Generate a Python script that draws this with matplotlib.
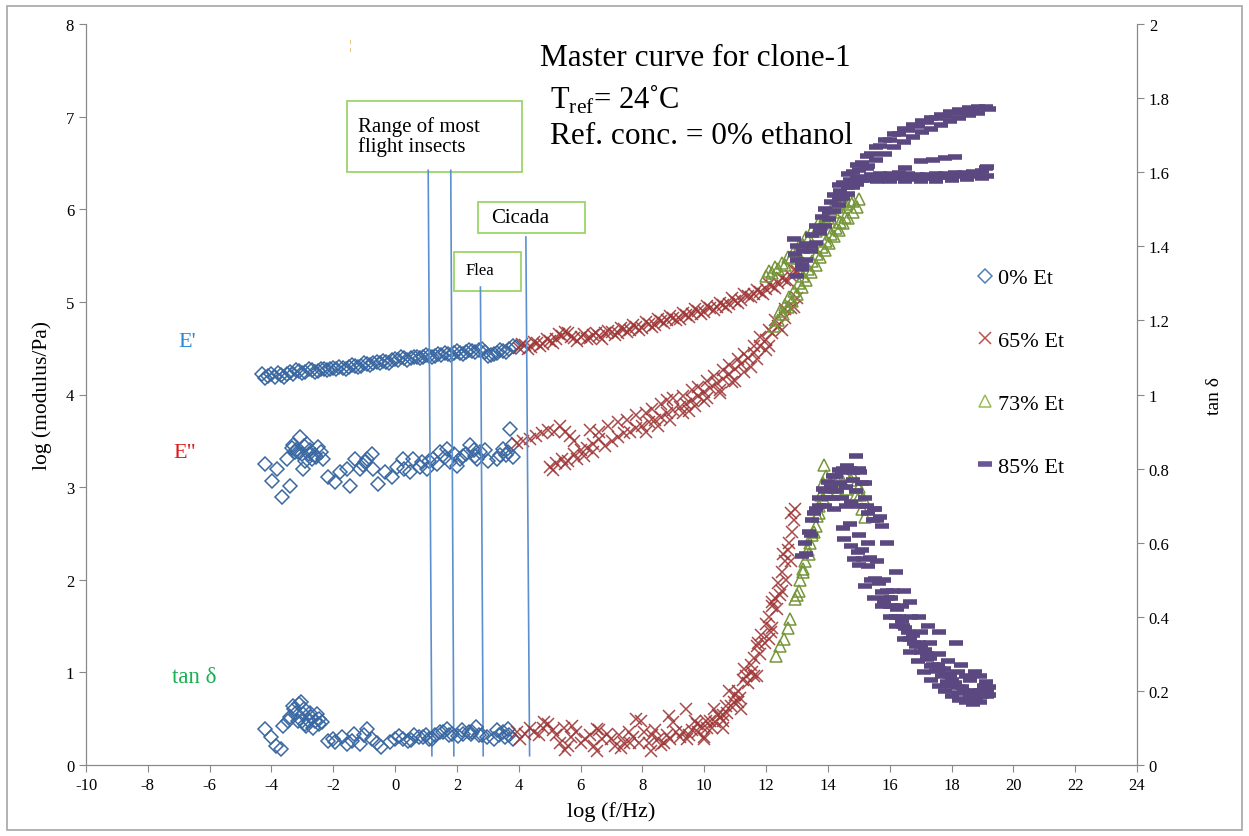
import matplotlib
matplotlib.use("Agg")
import matplotlib.pyplot as plt
from matplotlib.lines import Line2D
from matplotlib.patches import Rectangle

plt.rcParams['font.family'] = ['Liberation Serif', 'DejaVu Serif']
plt.rcParams['mathtext.fontset'] = 'custom'
plt.rcParams['mathtext.rm'] = 'Liberation Serif'
plt.rcParams['axes.unicode_minus'] = False

# ---- 0% Et (blue diamonds) ----
et0_mod_x = [-4.3, -4.1, -3.9, -3.7, -3.5, -3.3, -3.1, -2.9, -2.7, -2.5, -2.3, -2.1, -1.9, -1.7,
             -1.5, -1.3, -1.1, -0.9, -0.7, -0.5, -0.3, -0.1, 0.1, 0.3, 0.5, 0.7, 0.9, 1.1, 1.3,
             1.5, 1.7, 1.9, 2.1, 2.3, 2.5, 2.7, 2.9, 3.1, 3.3, 3.5, 3.7, 3.9,
             -4.2, -4.0, -3.8, -3.6, -3.4, -3.2, -3.0, -2.8, -2.6, -2.4, -2.2, -2.0, -1.8, -1.6,
             -1.4, -1.2, -1.0, -0.8, -0.6, -0.4, -0.2, 0.0, 0.2, 0.4, 0.6, 0.8, 1.0, 1.2, 1.4,
             1.6, 1.8, 2.0, 2.2, 2.4, 2.6, 2.8, 3.0, 3.2, 3.4, 3.6, 3.8]
et0_storage = [4.22, 4.20, 4.19, 4.21, 4.22, 4.22, 4.25, 4.24, 4.26, 4.25, 4.27, 4.27, 4.28, 4.29,
               4.30, 4.31, 4.31, 4.33, 4.34, 4.34, 4.35, 4.37, 4.37, 4.39, 4.39, 4.40, 4.41, 4.42,
               4.42, 4.43, 4.44, 4.45, 4.45, 4.46, 4.47, 4.48, 4.46, 4.43, 4.45, 4.47, 4.49, 4.51,
               4.18, 4.22, 4.23, 4.19, 4.24, 4.26, 4.23, 4.27, 4.24, 4.28, 4.26, 4.29, 4.30, 4.28,
               4.32, 4.30, 4.34, 4.32, 4.35, 4.36, 4.34, 4.38, 4.40, 4.37, 4.41, 4.39, 4.43, 4.41,
               4.44, 4.45, 4.43, 4.47, 4.44, 4.48, 4.46, 4.49, 4.42, 4.44, 4.48, 4.46, 4.52]
et0_loss_x = [-4.21, -3.98, -3.66, -3.82, -3.50, -3.40, -3.30, -3.07, -3.14, -2.98, -2.85, -2.69,
              -2.49, -2.33, -2.17, -1.94, -1.78, -1.55, -1.46, -1.29, -1.13, -0.97, -0.74, -0.71,
              -0.55, -0.32, -0.10, 0.06, 0.26, 0.49, 0.58, 0.87, 1.04, 1.23, 1.46, 1.68, 1.78,
              2.01, 2.20, 2.43, 2.59, 2.75, 3.01, 3.30, 3.50, 3.72, 3.79, 3.82,
              -3.20, -3.00, -2.75, -2.60, -2.90, 0.80, 1.60, 2.30, 2.90, 3.60,
              -3.35, -3.25, -2.95, -2.80, -2.55, -2.40, -1.05, -0.90, 0.30, 1.10, 1.35, 1.90,
              2.10, 2.55, 2.65, 3.40, 3.65]
et0_loss = [3.25, 3.07, 2.89, 3.20, 3.30, 3.01, 3.45, 3.54, 3.38, 3.20, 3.47, 3.30,
            3.43, 3.30, 3.11, 3.06, 3.16, 3.20, 3.01, 3.30, 3.20, 3.27, 3.36, 3.20,
            3.03, 3.16, 3.11, 3.22, 3.30, 3.16, 3.30, 3.27, 3.20, 3.30, 3.38, 3.41, 3.27,
            3.23, 3.34, 3.45, 3.34, 3.38, 3.28, 3.30, 3.41, 3.63, 3.45, 3.33,
            3.40, 3.36, 3.40, 3.35, 3.28, 3.22, 3.32, 3.36, 3.40, 3.35,
            3.42, 3.38, 3.44, 3.36, 3.32, 3.38, 3.24, 3.30, 3.20, 3.28, 3.25, 3.36,
            3.30, 3.40, 3.30, 3.35, 3.38]
et0_tan_x = [-4.21, -4.03, -3.86, -3.69, -3.63, -3.46, -3.28, -3.11, -2.99, -2.88, -2.71, -2.53,
             -2.36, -2.18, -1.96, -1.72, -1.55, -1.32, -1.15, -0.91, -0.74, -0.45, -0.16, 0.13,
             0.42, 0.76, 1.11, 1.46, 1.68, 2.03, 2.38, 2.61, 2.96, 3.19, 3.48, 3.65, 3.82,
             -3.30, -3.20, -3.05, -2.95, -2.80, -2.60, -2.45, -2.90, -3.15, -2.75,
             0.25, 0.60, 0.90, 1.30, 1.85, 2.20, 2.50, 2.80, 3.35,
             0.0, 0.5, 1.0, 1.2, 1.55, 1.75, 2.15, 2.45, 2.7, 3.3, 3.55, 3.7,
             -1.4, -1.0, -0.6, -2.0, -3.4, -3.0, -2.65, -2.45]
et0_tan = [0.097, 0.076, 0.051, 0.043, 0.105, 0.119, 0.151, 0.165, 0.138, 0.105, 0.130, 0.138,
           0.116, 0.065, 0.062, 0.076, 0.057, 0.084, 0.057, 0.097, 0.070, 0.049, 0.062, 0.078,
           0.065, 0.076, 0.070, 0.089, 0.097, 0.078, 0.089, 0.103, 0.076, 0.070, 0.089, 0.097,
           0.070,
           0.160, 0.140, 0.170, 0.150, 0.120, 0.120, 0.110, 0.110, 0.120, 0.140,
           0.070, 0.080, 0.075, 0.080, 0.085, 0.085, 0.090, 0.080, 0.080,
           0.070, 0.068, 0.082, 0.070, 0.090, 0.080, 0.095, 0.085, 0.080, 0.095, 0.075, 0.082,
           0.065, 0.080, 0.060, 0.070, 0.130, 0.120, 0.100, 0.125]

# ---- 65% Et (red crosses) ----
et65_mod_x = [4.0, 4.2, 4.4, 4.6, 4.8, 5.0, 5.2, 5.4, 5.6, 5.8, 6.0, 6.2, 6.4, 6.6, 6.8, 7.0, 7.2,
              7.4, 7.6, 7.8, 8.0, 8.2, 8.4, 8.6, 8.8, 9.0, 9.2, 9.4, 9.6, 9.8, 10.0, 10.2, 10.4,
              10.6, 10.8, 11.0, 11.2, 11.4, 11.6, 11.8, 12.0, 12.2, 12.4, 12.6, 12.8, 13.0,
              4.1, 4.3, 4.5, 4.7, 4.9, 5.1, 5.3, 5.5, 5.7, 5.9, 6.1, 6.3, 6.5, 6.7, 6.9, 7.1,
              7.3, 7.5, 7.7, 7.9, 8.1, 8.3, 8.5, 8.7, 8.9, 9.1, 9.3, 9.5, 9.7, 9.9, 10.1, 10.3,
              10.5, 10.7, 10.9, 11.1, 11.3, 11.5, 11.7, 11.9, 12.1, 12.3, 12.5, 12.7, 12.9]
et65_storage = [4.50, 4.53, 4.51, 4.56, 4.54, 4.58, 4.60, 4.63, 4.66, 4.61, 4.62, 4.60, 4.64, 4.63,
                4.66, 4.68, 4.66, 4.71, 4.70, 4.73, 4.72, 4.76, 4.75, 4.79, 4.80, 4.83, 4.82, 4.86,
                4.87, 4.90, 4.89, 4.93, 4.94, 4.97, 4.98, 5.01, 5.02, 5.06, 5.08, 5.11, 5.14, 5.17,
                5.20, 5.24, 5.28, 5.33,
                4.55, 4.49, 4.57, 4.52, 4.60, 4.56, 4.65, 4.68, 4.62, 4.58, 4.65, 4.61, 4.66, 4.60,
                4.69, 4.64, 4.72, 4.67, 4.75, 4.70, 4.78, 4.73, 4.81, 4.77, 4.85, 4.80, 4.88, 4.84,
                4.92, 4.87, 4.96, 4.91, 4.99, 4.95, 5.04, 4.99, 5.08, 5.05, 5.13, 5.09, 5.19, 5.15,
                5.26, 5.22, 5.34]
et65_loss_x = [3.95, 4.15, 4.35, 4.55, 4.75, 4.95, 5.15, 5.35, 5.5, 5.65, 5.8,
               5.0, 5.2, 5.4, 5.6, 5.8, 6.0, 6.2, 6.4, 6.6, 6.8, 7.0, 7.2, 7.4, 7.6, 7.8, 8.0,
               8.2, 8.4, 8.6, 8.8, 9.0, 9.2, 9.4, 9.6, 9.8, 10.0, 10.2, 10.4, 10.6, 10.8, 11.0,
               11.2, 11.4, 11.6, 11.8, 12.0, 12.2, 12.4, 12.6, 12.8, 13.0,
               6.3, 6.6, 7.5, 8.1, 8.6, 9.0, 9.3, 9.8, 10.3, 10.8, 11.3, 11.8, 12.3,
               9.5, 10.0, 10.5, 11.0, 11.5, 12.0,
               8.1, 8.5, 8.9, 9.3, 9.7, 10.1, 10.5, 10.9, 11.3, 11.7, 12.1, 12.5, 12.9,
               6.9, 7.2, 7.8, 8.3, 8.8, 9.6, 10.1, 10.6, 11.1, 11.6, 12.1, 12.6,
               5.1, 5.5, 5.9, 6.1, 6.4]
et65_loss = [3.48, 3.50, 3.52, 3.55, 3.58, 3.62, 3.60, 3.66, 3.60, 3.55, 3.50,
             3.22, 3.26, 3.30, 3.28, 3.36, 3.40, 3.42, 3.47, 3.52, 3.44, 3.50, 3.54, 3.58, 3.60,
             3.64, 3.66, 3.70, 3.72, 3.76, 3.80, 3.83, 3.87, 3.90, 3.94, 3.98, 4.03, 4.07, 4.12,
             4.17, 4.22, 4.27, 4.33, 4.39, 4.45, 4.52, 4.59, 4.66, 4.74, 4.83, 4.93, 5.04,
             3.62, 3.60, 3.72, 3.80, 3.90, 3.96, 3.98, 4.08, 4.20, 4.32, 4.44, 4.62, 4.80,
             3.82, 3.93, 4.02, 4.15, 4.30, 4.48,
             3.60, 3.66, 3.73, 3.80, 3.88, 3.96, 4.05, 4.14, 4.24, 4.38, 4.52, 4.70, 4.95,
             3.66, 3.70, 3.78, 3.84, 3.94, 4.05, 4.15, 4.26, 4.38, 4.52, 4.70, 4.92,
             3.18, 3.25, 3.30, 3.34, 3.38]
et65_tan_x = [3.95, 4.2, 4.5, 4.8, 5.1, 5.35, 5.5, 5.7, 6.0, 6.3, 6.6, 6.85, 7.1, 7.4, 7.7, 7.95,
              8.2, 8.5, 8.8, 9.0, 9.3, 9.6, 9.9, 10.2, 10.45, 10.7, 11.0, 11.25, 11.5, 11.75,
              12.0, 12.2, 12.4, 12.6, 12.75, 12.9, 12.95,
              4.81, 5.73, 6.54, 7.8, 8.85, 9.42, 6.54, 8.27, 10.0, 10.6, 11.1, 11.6, 12.1, 12.5,
              7.0, 7.3, 7.6, 7.9, 8.3, 8.6, 8.9, 9.2, 9.5, 9.8, 10.1, 10.35, 10.6, 10.85, 11.1,
              11.35, 11.6, 11.85, 12.1, 12.3, 12.5, 12.7, 12.85,
              9.7, 10.3, 10.8, 11.3, 11.7, 12.2, 12.55, 12.8,
              10.0, 10.6, 11.2, 11.7, 12.2,
              4.05, 4.35, 4.65, 4.95, 5.2, 5.45, 5.6, 5.85, 6.15, 6.45, 6.7, 7.25, 7.55, 8.05,
              8.4, 8.7, 9.1, 9.45, 9.75, 10.05, 10.25, 10.5, 10.75, 10.95, 11.15, 11.4, 11.55,
              11.8, 11.95, 12.15, 12.35, 12.45, 12.65, 12.8]
et65_tan = [0.090, 0.085, 0.090, 0.100, 0.095, 0.060, 0.040, 0.075, 0.060, 0.080, 0.095, 0.085,
            0.050, 0.060, 0.075, 0.120, 0.060, 0.070, 0.080, 0.115, 0.088, 0.095, 0.106, 0.120,
            0.135, 0.160, 0.190, 0.230, 0.270, 0.330, 0.380, 0.430, 0.490, 0.550, 0.600, 0.660,
            0.690,
            0.115, 0.106, 0.097, 0.124, 0.133, 0.151, 0.039, 0.039, 0.070, 0.120, 0.170, 0.240,
            0.340, 0.470,
            0.070, 0.045, 0.060, 0.060, 0.080, 0.055, 0.070, 0.075, 0.080, 0.090, 0.100, 0.115,
            0.135, 0.160, 0.200, 0.240, 0.290, 0.350, 0.400, 0.450, 0.520, 0.580, 0.630,
            0.120, 0.150, 0.200, 0.260, 0.320, 0.440, 0.570, 0.680,
            0.075, 0.100, 0.150, 0.240, 0.370,
            0.070, 0.100, 0.080, 0.110, 0.080, 0.100, 0.050, 0.090, 0.070, 0.050, 0.070, 0.080,
            0.090, 0.090, 0.095, 0.060, 0.090, 0.070, 0.110, 0.120, 0.100, 0.130, 0.140, 0.170,
            0.180, 0.220, 0.250, 0.300, 0.330, 0.360, 0.420, 0.460, 0.500, 0.550]

# ---- 73% Et (green triangles) ----
et73_storage_x = [12.0, 12.2, 12.4, 12.6, 12.8, 13.0, 13.2, 13.4, 13.6, 13.8, 14.0, 14.2, 14.4,
                  14.6, 14.8, 15.0,
                  12.1, 12.3, 12.5, 12.7, 12.9, 13.1, 13.3, 13.5, 13.7, 13.9, 14.1, 14.3, 14.5,
                  14.7]
et73_storage = [5.28, 5.31, 5.35, 5.40, 5.47, 5.54, 5.61, 5.69, 5.76, 5.84, 5.91, 5.97, 6.02,
                6.06, 6.09, 6.11,
                5.33, 5.38, 5.42, 5.48, 5.55, 5.63, 5.70, 5.78, 5.86, 5.93, 5.99, 6.04, 6.08,
                6.10]
et73_loss_x = [12.25, 12.4, 12.55, 12.7, 12.85, 13.0, 13.15, 13.3, 13.45, 13.6, 13.75, 13.9,
               14.05, 14.2, 14.35, 14.5, 14.65, 14.8, 14.95,
               12.45, 12.6, 12.75, 12.9, 13.05, 13.2, 13.35, 13.5, 13.65, 13.8, 13.95, 14.1,
               14.25, 14.4, 14.55]
et73_loss = [4.74, 4.80, 4.87, 4.94, 5.01, 5.08, 5.16, 5.24, 5.32, 5.40, 5.48, 5.56, 5.64, 5.71,
             5.78, 5.85, 5.91, 5.97, 6.02,
             4.90, 4.97, 5.05, 5.12, 5.20, 5.28, 5.36, 5.44, 5.52, 5.59, 5.66, 5.73, 5.80, 5.86,
             5.92]
et73_tan_x = [12.31, 12.45, 12.59, 12.7, 12.78, 12.93, 13.0, 13.1, 13.18, 13.27, 13.35, 13.43,
              13.5, 13.6, 13.66, 13.72, 13.78, 13.84, 13.89, 13.95, 14.06, 14.2, 14.4, 14.55,
              14.74, 14.9, 15.0, 15.14, 14.3, 14.6, 14.9, 15.1, 15.2,
              13.05, 13.2, 13.4, 13.55, 13.7, 13.85, 14.0, 14.15, 14.5, 14.8, 15.05]
et73_tan = [0.295, 0.320, 0.340, 0.370, 0.394, 0.448, 0.460, 0.500, 0.520, 0.550, 0.580, 0.600,
            0.620, 0.645, 0.673, 0.700, 0.730, 0.760, 0.810, 0.780, 0.760, 0.770, 0.780, 0.785,
            0.770, 0.760, 0.750, 0.720, 0.740, 0.745, 0.730, 0.690, 0.670,
            0.470, 0.530, 0.570, 0.630, 0.680, 0.720, 0.740, 0.750, 0.760, 0.780, 0.730]

# ---- 85% Et (purple dashes) ----
et85_storage_x = [13.0, 13.3, 13.6, 13.9, 14.2, 14.5, 14.8, 15.1, 15.4, 15.7, 16.0, 16.3, 16.6,
                  16.9, 17.2, 17.5, 17.8, 18.1, 18.4, 18.7, 19.0, 19.2,
                  13.15, 13.45, 13.75, 14.05, 14.35, 14.65, 14.95, 15.25, 15.55, 15.85, 16.15,
                  16.45, 16.75, 17.05, 17.35, 17.65, 17.95, 18.25, 18.55, 18.85,
                  12.9, 13.0, 12.95,
                  14.35, 14.65, 14.95, 15.25, 15.55, 15.85, 16.15, 16.45, 16.75, 17.05, 17.35,
                  17.65, 17.95, 18.25, 18.55, 18.85, 19.1]
et85_storage = [5.45, 5.62, 5.82, 6.00, 6.15, 6.28, 6.40, 6.50, 6.60, 6.68, 6.75, 6.81, 6.86,
                6.90, 6.94, 6.98, 7.01, 7.04, 7.06, 7.08, 7.09, 7.08,
                5.40, 5.60, 5.80, 5.97, 6.11, 6.24, 6.35, 6.45, 6.53, 6.60, 6.67, 6.73, 6.78,
                6.83, 6.87, 6.91, 6.95, 6.99, 7.02, 7.04,
                5.68, 5.60, 5.52,
                6.26, 6.38, 6.48, 6.58, 6.67, 6.75, 6.81, 6.87, 6.91, 6.95, 6.99, 7.02, 7.05,
                7.07, 7.09, 7.10, 7.10]
et85_loss_x = [13.0, 13.3, 13.6, 13.9, 14.2, 14.5, 14.8, 15.1, 15.4, 15.7, 16.0, 16.3, 16.6,
               16.9, 17.2, 17.5, 17.8, 18.1, 18.4, 18.7, 19.0, 19.15, 19.15,
               13.15, 13.45, 13.75, 14.05, 14.35, 14.65, 14.95, 15.25, 15.55, 15.85, 16.15,
               16.45, 16.75, 17.05, 17.35, 17.65, 17.95, 18.25, 18.55, 18.85, 19.1,
               17.0, 17.4, 17.8, 18.1, 16.5,
               13.2, 13.5, 13.8, 14.1, 14.4, 14.7, 15.0, 15.3,
               15.6, 16.0, 16.5, 17.0, 17.5, 18.0, 18.5, 19.0]
et85_loss = [5.28, 5.45, 5.64, 5.82, 5.98, 6.12, 6.24, 6.32, 6.37, 6.38, 6.38, 6.39, 6.38,
             6.37, 6.37, 6.38, 6.38, 6.39, 6.39, 6.40, 6.41, 6.36, 6.46,
             5.35, 5.55, 5.74, 5.90, 6.05, 6.17, 6.27, 6.32, 6.34, 6.35, 6.34, 6.35, 6.33,
             6.34, 6.34, 6.35, 6.35, 6.36, 6.36, 6.37, 6.44,
             6.52, 6.53, 6.55, 6.56, 6.45,
             5.55, 5.72, 5.92, 6.08, 6.20, 6.32, 6.42, 6.47,
             6.30, 6.31, 6.30, 6.31, 6.31, 6.32, 6.33, 6.34]
et85_tan_x = [13.16, 13.27, 13.38, 13.5, 13.61, 13.72, 13.83, 14.0, 14.17, 14.35, 14.5, 14.63,
              14.91, 14.8, 15.0,
              14.0, 14.3, 14.6, 14.9, 15.2, 14.2, 14.6, 15.0, 15.3, 13.9, 14.4, 14.8, 15.1,
              15.45, 15.6,
              14.52, 14.75, 14.97, 15.15, 15.31, 15.53, 15.76, 15.95, 16.1, 16.3, 16.44, 16.67,
              16.85, 17.01, 17.2, 17.35, 17.5, 17.69, 17.85, 18.03, 18.25, 18.48, 18.7, 18.93,
              19.16,
              15.53, 15.76, 15.9, 16.2, 16.45, 16.67, 16.95, 17.24, 17.58, 18.14, 18.3, 18.48,
              18.75, 18.93, 19.05, 19.15,
              14.86, 15.2, 15.5, 15.76, 16.0, 16.2, 16.45, 16.67, 16.9, 17.12, 17.35, 17.58,
              17.8, 18.03, 18.25, 18.48, 18.7,
              15.0, 15.4, 15.8, 16.0, 16.2, 16.4, 16.6, 16.8, 17.0, 17.2, 17.4, 17.6, 17.8, 18.0,
              18.2, 18.4, 18.6, 18.8, 19.0, 19.2, 19.1, 18.9, 18.6, 18.2, 17.9, 17.6, 17.3, 17.0,
              16.7, 16.4, 16.1, 15.8, 15.6, 15.3, 15.0, 14.7, 14.5,
              13.3, 13.45, 13.55, 13.7, 13.9, 14.1, 14.25, 14.45, 14.7, 15.05, 15.2, 14.15,
              14.45, 14.75, 15.25, 15.5, 15.7,
              15.1, 15.35, 15.65, 15.9, 16.05, 16.25, 16.5, 16.75, 16.95, 17.15, 17.3, 17.55,
              17.75, 17.95, 18.1, 18.35, 18.55, 18.8, 19.0, 19.2]
et85_tan = [0.565, 0.600, 0.630, 0.660, 0.690, 0.720, 0.745, 0.765, 0.780, 0.795, 0.800, 0.808,
            0.835, 0.790, 0.800,
            0.720, 0.740, 0.750, 0.740, 0.720, 0.690, 0.700, 0.700, 0.680, 0.700, 0.760, 0.770,
            0.760, 0.660, 0.660,
            0.610, 0.590, 0.575, 0.555, 0.538, 0.502, 0.467, 0.450, 0.430, 0.400, 0.376, 0.340,
            0.320, 0.305, 0.285, 0.268, 0.255, 0.240, 0.225, 0.214, 0.195, 0.178, 0.172, 0.170,
            0.187,
            0.690, 0.646, 0.600, 0.520, 0.470, 0.440, 0.400, 0.376, 0.358, 0.330, 0.270, 0.240,
            0.250, 0.240, 0.214, 0.200,
            0.556, 0.484, 0.450, 0.430, 0.400, 0.376, 0.340, 0.305, 0.280, 0.250, 0.230, 0.214,
            0.200, 0.187, 0.175, 0.170, 0.165,
            0.540, 0.500, 0.440, 0.430, 0.400, 0.390, 0.360, 0.330, 0.320, 0.300, 0.270, 0.260,
            0.245, 0.230, 0.210, 0.200, 0.190, 0.180, 0.185, 0.210, 0.225, 0.200, 0.230, 0.250,
            0.280, 0.300, 0.330, 0.360, 0.400, 0.430, 0.470, 0.500, 0.550, 0.600, 0.620, 0.650,
            0.640,
            0.570, 0.620, 0.680, 0.700, 0.740, 0.750, 0.780, 0.790, 0.800, 0.790, 0.760, 0.720,
            0.720, 0.710, 0.700, 0.690, 0.670,
            0.580, 0.560, 0.490, 0.470, 0.450, 0.420, 0.370, 0.350, 0.330, 0.310, 0.290, 0.270,
            0.260, 0.240, 0.220, 0.210, 0.200, 0.190, 0.200, 0.190]

# insect frequency marker lines (x at top, x at bottom, top height)
mark_x_top = [1.07, 1.80, 2.76, 4.23]
mark_x_bot = [1.19, 1.90, 2.85, 4.35]
mark_y_top = [6.42, 6.42, 5.16, 5.70]
mark_y_bot = 0.10

legend_labels = ['0% Et', '65% Et', '73% Et', '85% Et']

blue = '#3A68A2'
red = '#A03636'
green = '#76963A'
purple = '#5C4880'

fig = plt.figure(figsize=(12.49, 8.37), dpi=100)
ax = fig.add_axes([86 / 1249, 1 - 766 / 837, 1051 / 1249, 741 / 837])
ax2 = ax.twinx()

fig.patches.append(Rectangle((0.0056, 0.0072), 0.989, 0.9844, transform=fig.transFigure,
                             fill=False, edgecolor='#A6A6A6', linewidth=1.2))

dia = dict(marker='D', ms=7.5, mfc='none', mew=1.1, ls='none')
ax.plot(et0_mod_x, et0_storage, mec=blue, **dia)
ax.plot(et0_loss_x, et0_loss, mec=blue, **dia)
ax2.plot(et0_tan_x, et0_tan, mec=blue, **dia)

crs = dict(marker='x', ms=9, mew=1.1, ls='none', alpha=0.9)
ax.plot(et65_mod_x, et65_storage, color=red, **crs)
ax.plot(et65_loss_x, et65_loss, color=red, **crs)
ax2.plot(et65_tan_x, et65_tan, color=red, **crs)

tri = dict(marker='^', ms=9, mfc='none', mew=1.1, ls='none')
ax.plot(et73_storage_x, et73_storage, mec=green, **tri)
ax.plot(et73_loss_x, et73_loss, mec=green, **tri)
ax2.plot(et73_tan_x, et73_tan, mec=green, **tri)

dsh = dict(marker='_', ms=10.5, mew=4, ls='none')
ax.plot(et85_storage_x, et85_storage, color=purple, **dsh)
ax.plot(et85_loss_x, et85_loss, color=purple, **dsh)
ax2.plot(et85_tan_x, et85_tan, color=purple, **dsh)

for xt, xb, yt in zip(mark_x_top, mark_x_bot, mark_y_top):
    ax.plot([xt, xb], [yt, mark_y_bot], color='#5B8FD0', lw=1.2)

ax.set_xlim(-10, 24)
ax.set_ylim(0, 8)
ax2.set_ylim(0, 2)
ax.set_xticks(range(-10, 25, 2))
ax.set_yticks(range(0, 9))
ax2.set_yticks([0, 0.2, 0.4, 0.6, 0.8, 1, 1.2, 1.4, 1.6, 1.8, 2])
ax2.set_yticklabels(['0', '0.2', '0.4', '0.6', '0.8', '1', '1.2', '1.4', '1.6', '1.8', '2'])

for a in (ax, ax2):
    a.spines['top'].set_visible(False)
    for s in a.spines.values():
        s.set_color('#888888')
    a.tick_params(direction='out', length=5, color='#888888', labelsize=12, labelcolor='black')

ax.set_xlabel('log (f/Hz)', fontsize=16, labelpad=6)
ax.set_ylabel('log (modulus/Pa)', fontsize=15.5, labelpad=10)
ax2.set_ylabel('tan δ', fontsize=14, labelpad=26)

t = ax.transAxes
ax.text(0.432, 0.955, 'Master curve for clone-1', transform=t, fontsize=22.5, va='center')
ax.text(0.4415, 0.899, 'T$_{\\mathrm{ref}}$= 24˚C', transform=t, fontsize=22, va='center')
ax.text(0.4415, 0.849, 'Ref. conc. = 0% ethanol', transform=t, fontsize=22.5, va='center')
ax.text(0.2505, 0.972, '¦', transform=t, fontsize=9, color='#E0A030', va='center')

box_edge = '#9BD46A'
ax.add_patch(Rectangle((0.2483, 0.800), 0.1665, 0.096, transform=t, fill=False,
                       edgecolor=box_edge, lw=1.3))
ax.text(0.259, 0.849, 'Range of most\nflight insects', transform=t, fontsize=15,
        va='center', linespacing=1.05)
ax.add_patch(Rectangle((0.373, 0.718), 0.1018, 0.042, transform=t, fill=False,
                       edgecolor=box_edge, lw=1.3))
ax.text(0.385, 0.739, 'Cicada', transform=t, fontsize=15, va='center')
ax.add_patch(Rectangle((0.350, 0.640), 0.064, 0.052, transform=t, fill=False,
                       edgecolor=box_edge, lw=1.3))
ax.text(0.361, 0.668, 'Flea', transform=t, fontsize=12, va='center')

ax.text(0.0875, 0.571, "E'", transform=t, fontsize=16, color='#2A86D8', va='center')
ax.text(0.0828, 0.4224, 'E"', transform=t, fontsize=16, color='#DD1A1A', va='center')
ax.text(0.0818, 0.1188, 'tan δ', transform=t, fontsize=16.5, color='#19B050', va='center')

handles = [
    Line2D([], [], marker='D', ms=7.5, mfc='none', mec='#4F81BD', mew=1.1, ls='none'),
    Line2D([], [], marker='x', ms=9, color='#C0504D', mew=1.1, ls='none'),
    Line2D([], [], marker='^', ms=9, mfc='none', mec='#9BBB59', mew=1.1, ls='none'),
    Line2D([], [], marker='_', ms=10.5, color='#6B5596', mew=4, ls='none'),
]
ax2.legend(handles, legend_labels, loc='upper left', bbox_to_anchor=(0.836, 0.686),
           frameon=False, fontsize=16, labelspacing=1.9, handlelength=0.8,
           handletextpad=0.2, borderpad=0)

fig.savefig('out.png', dpi=100)
